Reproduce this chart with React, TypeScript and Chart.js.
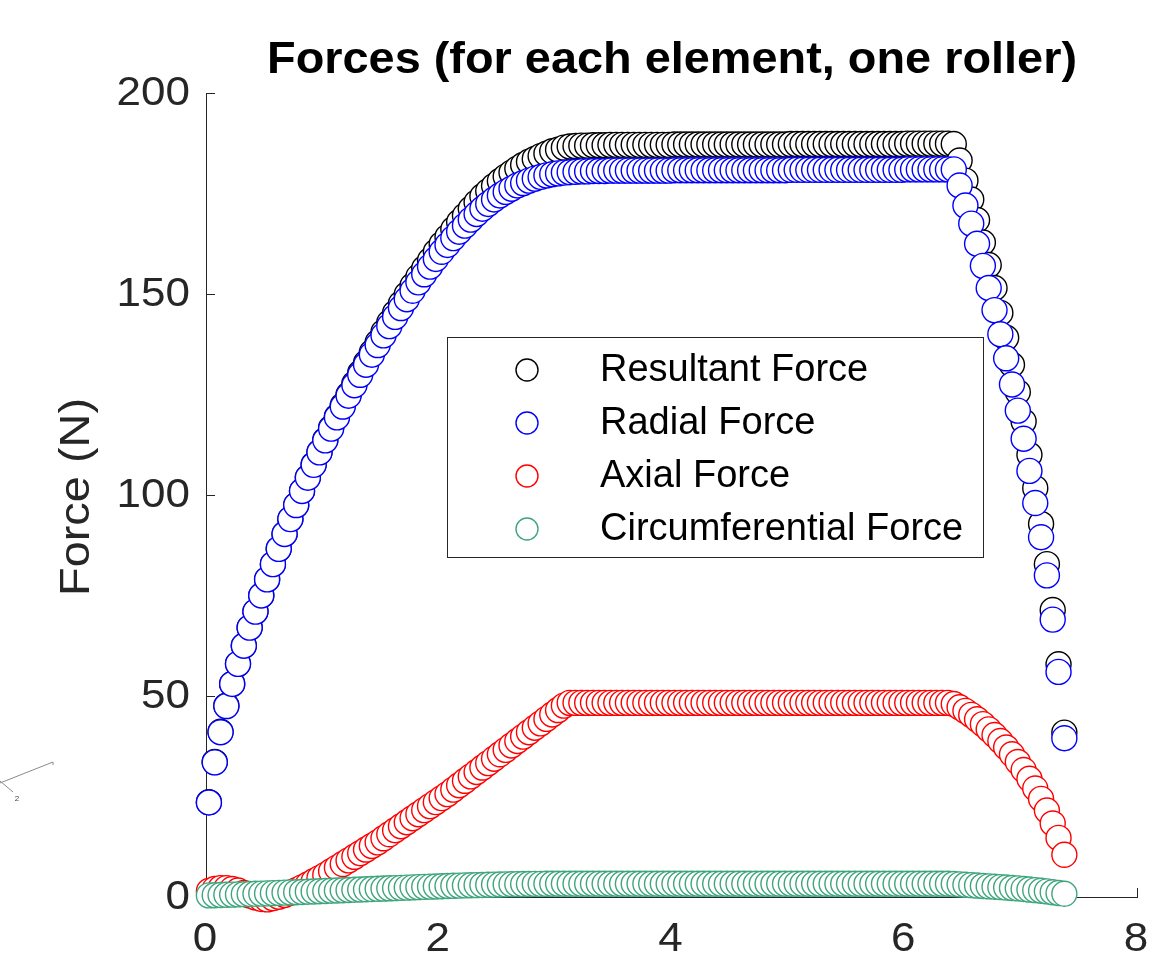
import React, { useEffect, useRef } from "react";
import { Chart, registerables } from "chart.js";

Chart.register(...registerables);

// Position along the element (x axis)
const positionX = [
  0.025, 0.075, 0.125, 0.175, 0.225, 0.275, 0.325, 0.375, 0.425, 0.475,
  0.525, 0.575, 0.625, 0.675, 0.725, 0.775, 0.825, 0.875, 0.925, 0.975,
  1.025, 1.075, 1.125, 1.175, 1.225, 1.275, 1.325, 1.375, 1.425, 1.475,
  1.525, 1.575, 1.625, 1.675, 1.725, 1.775, 1.825, 1.875, 1.925, 1.975,
  2.025, 2.075, 2.125, 2.175, 2.225, 2.275, 2.325, 2.375, 2.425, 2.475,
  2.525, 2.575, 2.625, 2.675, 2.725, 2.775, 2.825, 2.875, 2.925, 2.975,
  3.025, 3.075, 3.125, 3.175, 3.225, 3.275, 3.325, 3.375, 3.425, 3.475,
  3.525, 3.575, 3.625, 3.675, 3.725, 3.775, 3.825, 3.875, 3.925, 3.975,
  4.025, 4.075, 4.125, 4.175, 4.225, 4.275, 4.325, 4.375, 4.425, 4.475,
  4.525, 4.575, 4.625, 4.675, 4.725, 4.775, 4.825, 4.875, 4.925, 4.975,
  5.025, 5.075, 5.125, 5.175, 5.225, 5.275, 5.325, 5.375, 5.425, 5.475,
  5.525, 5.575, 5.625, 5.675, 5.725, 5.775, 5.825, 5.875, 5.925, 5.975,
  6.025, 6.075, 6.125, 6.175, 6.225, 6.275, 6.325, 6.375, 6.425, 6.475,
  6.525, 6.575, 6.625, 6.675, 6.725, 6.775, 6.825, 6.875, 6.925, 6.975,
  7.025, 7.075, 7.125, 7.175, 7.225, 7.275, 7.325, 7.375,
];

const resultantForce = [
  23.6, 33.6, 41.1, 47.6, 53.0, 58.0, 62.5, 67.0, 71.0, 75.0,
  79.0, 82.8, 86.6, 90.3, 94.0, 97.5, 101.0, 104.4, 107.6, 110.7,
  113.7, 116.7, 119.5, 122.3, 125.0, 127.7, 130.4, 132.9, 135.5, 138.0,
  140.5, 142.9, 145.3, 147.6, 149.9, 152.1, 154.3, 156.4, 158.4, 160.5,
  162.4, 164.2, 166.1, 167.9, 169.5, 171.2, 172.8, 174.3, 175.6, 176.9,
  178.1, 179.2, 180.2, 181.2, 182.1, 182.9, 183.6, 184.3, 184.9, 185.5,
  185.9, 186.4, 186.7, 186.8, 186.9, 186.9, 187.0, 187.0, 187.0, 187.1,
  187.1, 187.1, 187.1, 187.1, 187.1, 187.1, 187.1, 187.1, 187.1, 187.1,
  187.2, 187.2, 187.2, 187.2, 187.2, 187.2, 187.2, 187.2, 187.2, 187.2,
  187.2, 187.2, 187.2, 187.2, 187.2, 187.2, 187.2, 187.2, 187.2, 187.2,
  187.3, 187.3, 187.3, 187.3, 187.3, 187.3, 187.3, 187.3, 187.3, 187.3,
  187.3, 187.3, 187.3, 187.3, 187.3, 187.3, 187.3, 187.3, 187.3, 187.3,
  187.4, 187.4, 187.4, 187.4, 187.4, 187.4, 187.4, 187.4, 187.3, 183.2,
  178.2, 173.5, 168.4, 162.8, 157.2, 151.5, 145.3, 139.1, 132.4, 125.6,
  118.3, 110.0, 101.7, 92.8, 82.8, 71.4, 57.9, 40.9,
];

const radialForce = [
  23.5, 33.5, 41.0, 47.5, 53.0, 58.0, 62.5, 67.0, 71.0, 75.0,
  79.0, 82.8, 86.6, 90.3, 94.0, 97.5, 101.0, 104.3, 107.5, 110.6,
  113.6, 116.5, 119.3, 122.0, 124.7, 127.3, 129.9, 132.4, 134.9, 137.3,
  139.7, 142.0, 144.3, 146.5, 148.7, 150.8, 152.9, 154.9, 156.8, 158.7,
  160.5, 162.2, 163.9, 165.5, 167.0, 168.5, 169.9, 171.2, 172.4, 173.5,
  174.5, 175.4, 176.2, 177.0, 177.6, 178.2, 178.7, 179.1, 179.5, 179.8,
  180.0, 180.2, 180.3, 180.4, 180.5, 180.5, 180.6, 180.6, 180.6, 180.7,
  180.7, 180.7, 180.7, 180.7, 180.7, 180.7, 180.7, 180.7, 180.7, 180.7,
  180.8, 180.8, 180.8, 180.8, 180.8, 180.8, 180.8, 180.8, 180.8, 180.8,
  180.8, 180.8, 180.8, 180.8, 180.8, 180.8, 180.8, 180.8, 180.8, 180.8,
  180.9, 180.9, 180.9, 180.9, 180.9, 180.9, 180.9, 180.9, 180.9, 180.9,
  180.9, 180.9, 180.9, 180.9, 180.9, 180.9, 180.9, 180.9, 180.9, 180.9,
  181.0, 181.0, 181.0, 181.0, 181.0, 181.0, 181.0, 181.0, 181.0, 177.0,
  172.0, 167.5, 162.5, 157.0, 151.5, 146.0, 140.0, 134.0, 127.5, 121.0,
  114.0, 106.0, 98.0, 89.5, 80.0, 69.0, 56.0, 39.5,
];

const axialForce = [
  1.5, 2.0, 2.2, 2.2, 2.0, 1.6, 1.0, 0.4, -0.1, -0.5,
  -0.6, -0.3, 0.1, 0.5, 1.1, 1.7, 2.4, 3.1, 3.9, 4.7,
  5.5, 6.4, 7.3, 8.2, 9.1, 10.0, 10.9, 11.8, 12.7, 13.6,
  14.6, 15.6, 16.6, 17.6, 18.6, 19.6, 20.6, 21.6, 22.6, 23.6,
  24.6, 25.6, 26.7, 27.8, 28.9, 30.0, 31.1, 32.2, 33.3, 34.4,
  35.5, 36.6, 37.7, 38.8, 39.9, 41.0, 42.1, 43.2, 44.3, 45.4,
  46.5, 47.6, 48.3, 48.3, 48.3, 48.3, 48.3, 48.3, 48.3, 48.3,
  48.3, 48.3, 48.3, 48.3, 48.3, 48.3, 48.3, 48.3, 48.3, 48.3,
  48.3, 48.3, 48.3, 48.3, 48.3, 48.3, 48.3, 48.3, 48.3, 48.3,
  48.3, 48.3, 48.3, 48.3, 48.3, 48.3, 48.3, 48.3, 48.3, 48.3,
  48.3, 48.3, 48.3, 48.3, 48.3, 48.3, 48.3, 48.3, 48.3, 48.3,
  48.3, 48.3, 48.3, 48.3, 48.3, 48.3, 48.3, 48.3, 48.3, 48.3,
  48.3, 48.3, 48.3, 48.3, 48.3, 48.3, 48.3, 48.3, 48.0, 47.2,
  46.3, 45.3, 44.2, 43.0, 41.7, 40.3, 38.8, 37.2, 35.5, 33.6,
  31.6, 29.4, 27.0, 24.4, 21.5, 18.3, 14.7, 10.5,
];

const circumferentialForce = [
  0.4, 0.45, 0.5, 0.55, 0.6, 0.65, 0.7, 0.75, 0.8, 0.85,
  0.9, 0.96, 1.02, 1.08, 1.14, 1.2, 1.26, 1.32, 1.38, 1.44,
  1.5, 1.56, 1.62, 1.68, 1.74, 1.8, 1.86, 1.92, 1.98, 2.04,
  2.1, 2.16, 2.22, 2.28, 2.34, 2.4, 2.46, 2.52, 2.58, 2.63,
  2.68, 2.73, 2.78, 2.83, 2.88, 2.92, 2.96, 3.0, 3.04, 3.08,
  3.11, 3.14, 3.17, 3.2, 3.22, 3.24, 3.26, 3.27, 3.28, 3.29,
  3.3, 3.3, 3.3, 3.3, 3.3, 3.3, 3.3, 3.3, 3.3, 3.3,
  3.3, 3.3, 3.3, 3.3, 3.3, 3.3, 3.3, 3.3, 3.3, 3.3,
  3.3, 3.3, 3.3, 3.3, 3.3, 3.3, 3.3, 3.3, 3.3, 3.3,
  3.3, 3.3, 3.3, 3.3, 3.3, 3.3, 3.3, 3.3, 3.3, 3.3,
  3.3, 3.3, 3.3, 3.3, 3.3, 3.3, 3.3, 3.3, 3.3, 3.3,
  3.3, 3.3, 3.3, 3.3, 3.3, 3.3, 3.3, 3.3, 3.3, 3.3,
  3.3, 3.3, 3.3, 3.3, 3.3, 3.3, 3.3, 3.3, 3.25, 3.15,
  3.05, 2.95, 2.85, 2.75, 2.65, 2.55, 2.45, 2.35, 2.25, 2.15,
  2.0, 1.85, 1.7, 1.55, 1.4, 1.2, 1.0, 0.8,
];

const seriesNames = ["Resultant Force", "Radial Force", "Axial Force", "Circumferential Force"];
const seriesColors = ["#000000", "#0000ff", "#ff0000", "#3fa57e"];
const xTickValues = [0, 2, 4, 6, 8];
const yTickValues = [0, 50, 100, 150, 200];
const chartTitle = "Forces (for each element, one roller)";
const yAxisTitle = "Force (N)";
const strayLabel = "2";

const FONT = "'Liberation Sans', Arial, Helvetica, sans-serif";
const AXIS_COLOR = "#262626";

function drawText(ctx: any, text: string, x: number, y: number, align: string, sx: number) {
  ctx.save();
  ctx.translate(x, y);
  ctx.scale(sx, 1);
  ctx.textAlign = align;
  ctx.fillText(text, 0, 0);
  ctx.restore();
}

function drawFitted(ctx: any, text: string, cx: number, y: number, targetWidth: number) {
  const w = ctx.measureText(text).width;
  drawText(ctx, text, cx, y, "center", targetWidth / w);
}

const decorPlugin = {
  id: "matlabDecor",
  beforeDatasetsDraw(chart: any) {
    const { ctx, chartArea, scales } = chart;
    ctx.save();
    // inward tick marks
    ctx.strokeStyle = AXIS_COLOR;
    ctx.lineWidth = 1;
    ctx.beginPath();
    for (const v of xTickValues) {
      const px = Math.round(scales.x.getPixelForValue(v)) + 0.5;
      ctx.moveTo(px, chartArea.bottom);
      ctx.lineTo(px, chartArea.bottom - 9);
    }
    for (const v of yTickValues) {
      const py = Math.round(scales.y.getPixelForValue(v)) + 0.5;
      ctx.moveTo(chartArea.left, py);
      ctx.lineTo(chartArea.left + 9, py);
    }
    ctx.stroke();

    // tick labels
    ctx.fillStyle = AXIS_COLOR;
    ctx.font = `40px ${FONT}`;
    ctx.textBaseline = "middle";
    for (const v of yTickValues) {
      const py = scales.y.getPixelForValue(v);
      drawText(ctx, String(v), chartArea.left - 16, py + 1, "right", 1.1);
    }
    for (const v of xTickValues) {
      const px = scales.x.getPixelForValue(v);
      drawText(ctx, String(v), px - 1, chartArea.bottom + 43, "center", 1.1);
    }

    // y axis title
    ctx.save();
    ctx.translate(77, (chartArea.top + chartArea.bottom) / 2 + 2);
    ctx.rotate(-Math.PI / 2);
    ctx.font = `42px ${FONT}`;
    ctx.textBaseline = "middle";
    drawFitted(ctx, yAxisTitle, 0, 0, 198);
    ctx.restore();

    // title
    ctx.fillStyle = "#000";
    ctx.font = `bold 45px ${FONT}`;
    ctx.textBaseline = "alphabetic";
    drawFitted(ctx, chartTitle, 672, 73, 810);
    ctx.restore();
  },
  afterDatasetsDraw(chart: any) {
    const { ctx } = chart;
    ctx.save();
    // legend box
    const bx = 447.5, by = 337.5, bw = 536, bh = 220;
    ctx.fillStyle = "#fff";
    ctx.fillRect(bx, by, bw, bh);
    ctx.strokeStyle = AXIS_COLOR;
    ctx.lineWidth = 1;
    ctx.strokeRect(bx, by, bw, bh);
    ctx.font = `38px ${FONT}`;
    ctx.textAlign = "left";
    ctx.textBaseline = "middle";
    seriesNames.forEach((name, i) => {
      const cy = 370 + i * 53;
      ctx.beginPath();
      ctx.arc(527, cy, 11, 0, Math.PI * 2);
      ctx.strokeStyle = seriesColors[i];
      ctx.lineWidth = 1.4;
      ctx.stroke();
      ctx.fillStyle = "#000";
      ctx.fillText(name, 600, cy + 1);
    });

    // small stray axis fragment at lower-left
    ctx.strokeStyle = "#8a8a8a";
    ctx.lineWidth = 1;
    ctx.beginPath();
    ctx.moveTo(53, 762);
    ctx.lineTo(0, 783);
    ctx.moveTo(0, 781);
    ctx.lineTo(13, 792);
    ctx.moveTo(53, 762);
    ctx.lineTo(53, 765);
    ctx.stroke();
    ctx.fillStyle = "#444";
    ctx.font = `8px ${FONT}`;
    ctx.textAlign = "center";
    ctx.fillText(strayLabel, 17, 799);
    ctx.restore();
  },
};

export default function App() {
  const canvasRef = useRef<HTMLCanvasElement | null>(null);

  useEffect(() => {
    const canvas = canvasRef.current;
    if (!canvas) return;
    const seriesValues = [resultantForce, radialForce, axialForce, circumferentialForce];
    const chart = new Chart(canvas, {
      type: "scatter",
      data: {
        datasets: seriesValues.map((vals, i) => ({
          label: seriesNames[i],
          data: positionX.map((x, j) => ({ x, y: vals[j] })),
          borderColor: seriesColors[i],
          backgroundColor: "#ffffff",
          pointRadius: 12.5,
          pointHoverRadius: 12.5,
          pointBorderWidth: 1.4,
          showLine: false,
          clip: false,
          order: 4 - i,
        })),
      },
      options: {
        responsive: false,
        animation: false,
        devicePixelRatio: 1,
        events: [],
        layout: { padding: { left: 0, right: 12, top: 93, bottom: 0 } },
        plugins: {
          legend: { display: false },
          tooltip: { enabled: false },
          title: { display: false },
        },
        scales: {
          x: {
            type: "linear",
            min: 0,
            max: 8,
            afterBuildTicks: (s: any) => {
              s.ticks = xTickValues.map((v) => ({ value: v }));
            },
            afterFit: (s: any) => {
              s.height = 64;
              s.paddingLeft = 0;
              s.paddingRight = 0;
            },
            grid: { display: false, drawTicks: false },
            border: { display: true, color: AXIS_COLOR, width: 1 },
            ticks: { display: false },
          },
          y: {
            type: "linear",
            min: 0,
            max: 200,
            afterBuildTicks: (s: any) => {
              s.ticks = yTickValues.map((v) => ({ value: v }));
            },
            afterFit: (s: any) => {
              s.width = 206;
              s.paddingTop = 0;
              s.paddingBottom = 0;
            },
            grid: { display: false, drawTicks: false },
            border: { display: true, color: AXIS_COLOR, width: 1 },
            ticks: { display: false },
          },
        },
      },
      plugins: [decorPlugin],
    });
    return () => chart.destroy();
  }, []);

  return (
    <div style={{ position: "fixed", left: 0, top: 0, width: 1151, height: 961, background: "#fff" }}>
      <canvas ref={canvasRef} width={1151} height={961} style={{ display: "block" }} />
    </div>
  );
}
